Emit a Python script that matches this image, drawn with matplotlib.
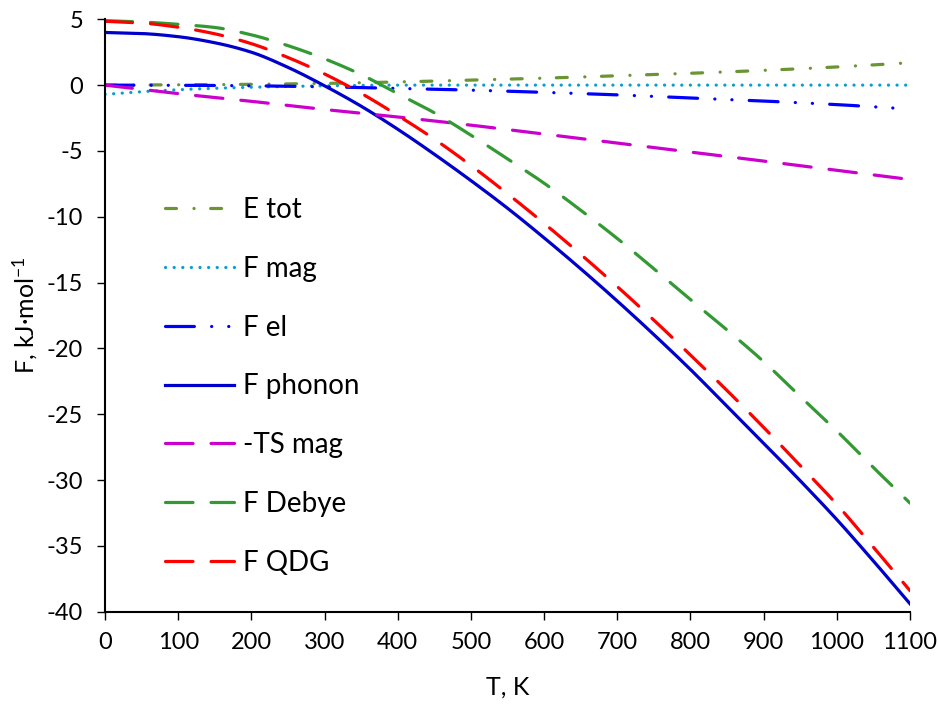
import matplotlib
matplotlib.use("Agg")
import matplotlib.pyplot as plt
import numpy as np

plt.rcParams['font.family'] = ['Lato', 'DejaVu Sans']
plt.rcParams['mathtext.fontset'] = 'custom'
plt.rcParams['mathtext.rm'] = 'Lato'
plt.rcParams['mathtext.default'] = 'regular'
plt.rcParams['axes.unicode_minus'] = False
plt.rcParams['lines.scale_dashes'] = False

# Temperature grids (K)
T_coarse = [0, 100, 200, 300, 400, 500, 600, 700, 800, 900, 1000, 1100]
T_fine = [0, 50, 100, 150, 200, 250, 300, 350, 400, 450, 500, 550,
          600, 650, 700, 750, 800, 850, 900, 950, 1000, 1050, 1100]

# Free-energy contributions, kJ/mol
E_tot = [0.0, 0.02, 0.06, 0.13, 0.24, 0.38, 0.53, 0.71, 0.90, 1.12, 1.38, 1.70]
F_mag_T = [0, 50, 100, 150, 200, 250, 300, 350, 400, 500, 600, 700, 800, 900, 1000, 1100]
F_mag = [-0.70, -0.50, -0.35, -0.24, -0.16, -0.10, -0.05, -0.02, 0.0,
         0.0, 0.0, 0.0, 0.0, 0.0, 0.0, 0.0]
F_el = [0.0, -0.01, -0.05, -0.13, -0.25, -0.38, -0.55, -0.74, -0.98, -1.21, -1.48, -1.82]
F_phonon = [4.00, 3.92, 3.68, 3.22, 2.50, 1.35, -0.05, -1.60, -3.35, -5.25, -7.25, -9.35,
            -11.60, -13.95, -16.40, -18.95, -21.60, -24.40, -27.20, -30.05, -33.00, -36.15, -39.40]
TS_mag = [0.0, -0.65, -1.23, -1.85, -2.42, -3.04, -3.72, -4.40, -5.08, -5.77, -6.47, -7.17]
F_Debye = [4.90, 4.80, 4.62, 4.38, 3.82, 3.00, 2.00, 0.80, -0.65, -2.10, -3.80, -5.60,
           -7.45, -9.50, -11.65, -13.95, -16.30, -18.60, -21.00, -23.65, -26.27, -29.05, -31.75]
F_QDG = [4.85, 4.72, 4.40, 3.90, 3.15, 2.10, 0.85, -0.62, -2.30, -4.10, -6.10, -8.25,
         -10.50, -12.85, -15.30, -17.85, -20.50, -23.20, -26.00, -28.90, -31.85, -35.10, -38.40]

x_ticks = [0, 100, 200, 300, 400, 500, 600, 700, 800, 900, 1000, 1100]
y_ticks = [5, 0, -5, -10, -15, -20, -25, -30, -35, -40]


def smooth(x, y, n=400):
    """Monotone piecewise-cubic curve through the tabulated points."""
    xs = np.linspace(x[0], x[-1], n)
    x = np.asarray(x, float); y = np.asarray(y, float)
    h = np.diff(x); d = np.diff(y) / h
    m = np.zeros_like(y)
    for k in range(1, len(x) - 1):
        if d[k - 1] * d[k] > 0:
            w1 = 2 * h[k] + h[k - 1]; w2 = h[k] + 2 * h[k - 1]
            m[k] = (w1 + w2) / (w1 / d[k - 1] + w2 / d[k])
    m[0] = d[0]; m[-1] = d[-1]
    idx = np.clip(np.searchsorted(x, xs) - 1, 0, len(x) - 2)
    t = (xs - x[idx]) / h[idx]
    h00 = 2 * t**3 - 3 * t**2 + 1; h10 = t**3 - 2 * t**2 + t
    h01 = -2 * t**3 + 3 * t**2; h11 = t**3 - t**2
    ys = h00 * y[idx] + h10 * h[idx] * m[idx] + h01 * y[idx + 1] + h11 * h[idx] * m[idx + 1]
    return xs, ys


fig = plt.figure(figsize=(9.38, 7.04), dpi=100)
ax = fig.add_axes([105 / 938, 1 - 611.7 / 704, (910 - 105) / 938, (611.7 - 19.3) / 704])

lw = 2.3
common = dict(lw=lw, dash_capstyle='round', solid_capstyle='butt')
long_dash = (0, (19.8, 13.0))

ax.plot(*smooth(T_coarse, E_tot), color='#6B9433', dashes=(7.9, 12.6, 0.1, 11.9), label='E tot', **common)
ax.plot(*smooth(F_mag_T, F_mag), color='#0A9ED0', dashes=(0.1, 6.1), label='F mag', **common)
ax.plot(*smooth(T_coarse, F_el), color='#0000FF', dashes=(20.8, 12.4, 0.1, 12.2, 0.1, 12.4), label='F el', **common)
ax.plot(*smooth(T_fine, F_phonon), color='#0000CC', label='F phonon', lw=lw)
ax.plot(*smooth(T_coarse, TS_mag), color='#CC00CC', linestyle=long_dash, label='-TS mag', **common)
ax.plot(*smooth(T_fine, F_Debye), color='#339933', linestyle=long_dash, label='F Debye', **common)
ax.plot(*smooth(T_fine, F_QDG), color='#FF0000', linestyle=long_dash, label='F QDG', **common)

ax.set_xlim(0, 1100)
ax.set_ylim(-40, 5)
ax.set_xticks(x_ticks)
ax.set_yticks(y_ticks)
ax.tick_params(axis='both', direction='out', length=5.8, width=1.0, labelsize=17, colors='black')
ax.tick_params(axis='y', pad=10)
ax.tick_params(axis='x', pad=9)
for s in ('top', 'right'):
    ax.spines[s].set_visible(False)
for s in ('left', 'bottom'):
    ax.spines[s].set_linewidth(1.5)

ax.set_xlabel('T, K', fontsize=18, labelpad=16)
ax.set_ylabel('F, kJ·mol$^{-1}$', fontsize=18, labelpad=5)

ax.legend(loc='upper left', bbox_to_anchor=((165 - 105) / 805, 1 - (197 - 19.3) / 592.4),
          frameon=False, fontsize=20, handlelength=2.5, handletextpad=0.3,
          labelspacing=1.18, borderpad=0, borderaxespad=0)

fig.savefig('out.png', dpi=100)
